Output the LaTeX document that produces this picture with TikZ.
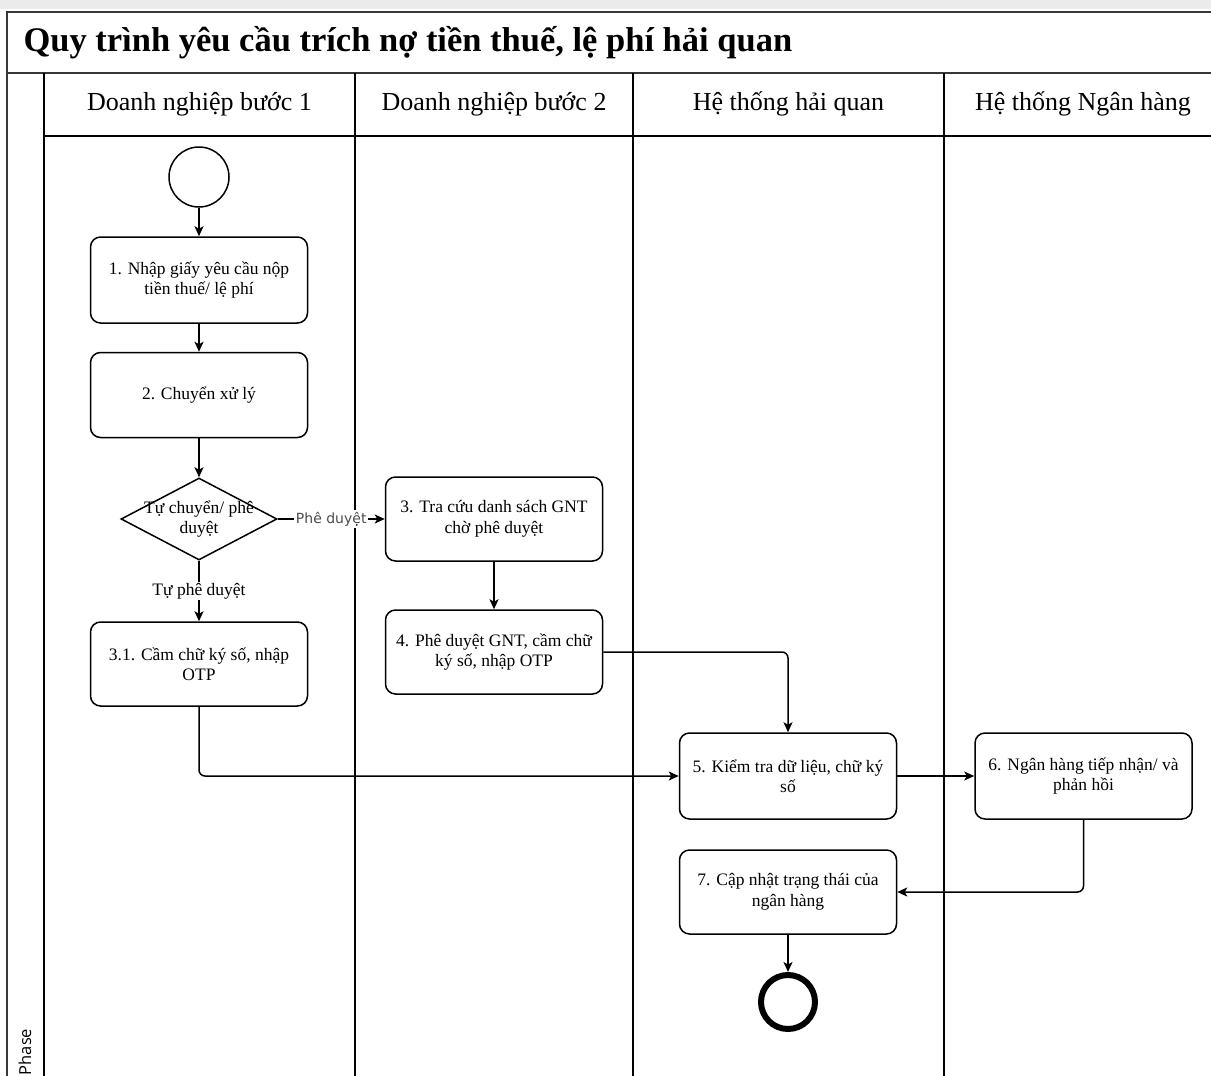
\documentclass[tikz,border=0pt]{standalone}
\usepackage{fontspec}
\setmainfont{Liberation Serif}
\newfontfamily\labelfont{DejaVu Sans}
\newfontfamily\phasefont{Open Sans}
\usetikzlibrary{arrows.meta,shapes.geometric}
\begin{document}
\begin{tikzpicture}[x=1pt,y=-1pt,
  frame/.style={draw=black!78,line width=2pt},
  laneline/.style={draw=black,line width=1.3pt},
  task/.style={draw,line width=1.5pt,rounded corners=10pt,minimum width=217pt,minimum height=85pt,
    align=center,inner sep=0pt,font=\fontsize{17.5}{20.5}\selectfont},
  decision/.style={draw,diamond,line width=1.5pt,minimum width=156pt,minimum height=82pt,inner sep=0pt},
  dtext/.style={align=center,inner sep=0pt,font=\fontsize{17.5}{20.5}\selectfont},
  startev/.style={draw,circle,line width=1.5pt,minimum size=60pt,inner sep=0pt},
  endev/.style={draw,circle,line width=6pt,minimum size=54pt,inner sep=0pt},
  flow/.style={draw,line width=1.5pt,-{Stealth[length=10pt,width=9pt,inset=2.5pt]}},
  elabel/.style={fill=white,inner sep=1.5pt},
  header/.style={font=\fontsize{26}{30}\selectfont,anchor=center},
]
\useasboundingbox (0,0) rectangle (1211,1076);
\fill[black!8] (0,0) rectangle (1211,9);
\fill[white] (0,9) rectangle (1211,1076);
% frame
\draw[frame] (1220,12) -- (7,12) -- (7,1080);
\draw[frame] (7,73) -- (1220,73);
\draw[laneline] (44,73) -- (44,1080);
\draw[laneline] (44,136) -- (1220,136);
\draw[laneline] (355,73) -- (355,1080);
\draw[laneline] (633,73) -- (633,1080);
\draw[laneline] (944,73) -- (944,1080);
% title and headers
\node[anchor=west,font=\bfseries\fontsize{34.5}{40}\selectfont] (title) at (20,43) {Quy trình yêu cầu trích nợ tiền thuế, lệ phí hải quan};
\node[header] (h1) at (199.5,104) {Doanh nghiệp bước 1};
\node[header] (h2) at (494,104) {Doanh nghiệp bước 2};
\node[header] (h3) at (788.5,104) {Hệ thống hải quan};
\node[header] (h4) at (1083,104) {Hệ thống Ngân hàng};
\node[rotate=90,anchor=center,font=\phasefont\fontsize{16.5}{18}\selectfont] (phase) at (25,1052) {Phase};
% nodes
\node[startev] (start) at (199,177) {};
\node[task,minimum height=86pt] (n1) at (199,280) {1. Nhập giấy yêu cầu nộp\\tiền thuế/ lệ phí};
\node[task] (n2) at (199,395) {2. Chuyển xử lý};
\node[decision] (d) at (199,519) {};
\node[dtext] (dt) at (d.center) {Tự chuyển/ phê\\duyệt};
\node[task,minimum height=84pt] (n31) at (199,664) {3.1. Cầm chữ ký số, nhập\\OTP};
\node[task,minimum height=84pt] (n3) at (494,519) {3. Tra cứu danh sách GNT\\chờ phê duyệt};
\node[task,minimum height=84pt] (n4) at (494,652) {4. Phê duyệt GNT, cầm chữ\\ký số, nhập OTP};
\node[task,minimum height=86pt] (n5) at (788,776) {5. Kiểm tra dữ liệu, chữ ký\\số};
\node[task,minimum height=86pt] (n6) at (1083.5,776) {6. Ngân hàng tiếp nhận/ và\\phản hồi};
\node[task,minimum height=84pt] (n7) at (788,892) {7. Cập nhật trạng thái của\\ngân hàng};
\node[endev] (end) at (788,1002) {};
% connectors
\draw[flow] (start) -- (n1);
\draw[flow] (n1) -- (n2);
\draw[flow] (n2) -- (d);
\draw[flow] (d) -- node[elabel,text=black!70,font=\labelfont\fontsize{14}{16}\selectfont]{Phê duyệt} (n3);
\draw[flow] (d) -- node[elabel,pos=0.5,font=\fontsize{17.5}{20}\selectfont]{Tự phê duyệt} (n31);
\draw[flow] (n3) -- (n4);
\draw[flow,rounded corners=6pt] (n31.south) |- (n5.west);
\draw[flow,rounded corners=6pt] (n4.east) -| (n5.north);
\draw[flow] (n5) -- (n6);
\draw[flow,rounded corners=6pt] (n6.south) |- (n7.east);
\draw[flow] (n7) -- (end);
\end{tikzpicture}
\end{document}
